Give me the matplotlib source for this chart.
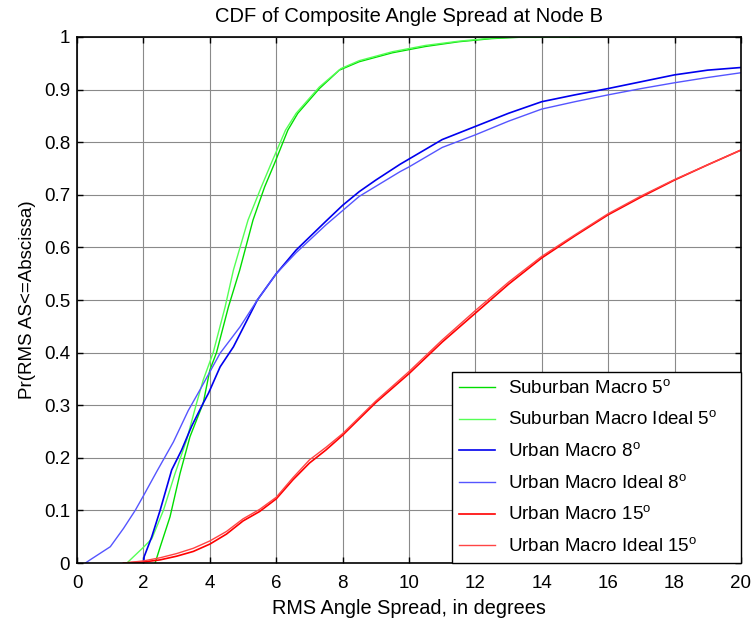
import matplotlib
matplotlib.use('Agg')
import matplotlib.pyplot as plt
import numpy as np

plt.rcParams['font.family'] = ['Liberation Sans', 'DejaVu Sans']
plt.rcParams['mathtext.fontset'] = 'custom'
plt.rcParams['mathtext.rm'] = 'Liberation Sans'

# Suburban Macro 5 deg
sub_x = [2.35, 2.5, 2.8, 3.1, 3.4, 3.8, 4.0, 4.2, 4.56, 4.9, 5.3, 5.65, 5.95, 6.35, 6.65,
         7.3, 7.9, 8.5, 9.5, 10.5, 11.5, 12.5, 13.5, 15.2]
sub_y = [0.0, 0.03, 0.088, 0.17, 0.24, 0.304, 0.367, 0.4, 0.487, 0.557, 0.652, 0.715, 0.76,
         0.823, 0.855, 0.902, 0.937, 0.953, 0.97, 0.982, 0.991, 0.997, 1.0, 1.0]

# Suburban Macro Ideal 5 deg
subi_x = [1.5, 2.0, 2.25, 2.6, 2.95, 3.3, 3.6, 3.8, 4.1, 4.46, 4.71, 5.15, 5.55, 5.85, 6.28,
          6.6, 7.3, 7.95, 8.5, 9.5, 10.5, 11.5, 12.5, 13.2, 14.8]
subi_y = [0.0, 0.03, 0.046, 0.1, 0.17, 0.234, 0.304, 0.348, 0.4, 0.487, 0.557, 0.652, 0.715,
          0.76, 0.823, 0.855, 0.905, 0.94, 0.955, 0.972, 0.984, 0.992, 0.998, 1.0, 1.0]

# Urban Macro 8 deg
urb8_x = [2.0, 2.02, 2.25, 2.5, 2.85, 3.15, 3.45, 3.8, 3.96, 4.31, 4.71, 5.43, 6.0, 6.6, 7.5,
          8.0, 8.5, 9.0, 9.73, 10.0, 11.0, 12.0, 13.0, 14.0, 15.0, 16.0, 17.0, 18.0, 19.0, 20.0]
urb8_y = [0.0, 0.012, 0.05, 0.1, 0.177, 0.215, 0.26, 0.304, 0.323, 0.373, 0.411, 0.5, 0.55,
          0.595, 0.65, 0.68, 0.706, 0.728, 0.758, 0.768, 0.805, 0.83, 0.855, 0.877, 0.89,
          0.902, 0.915, 0.928, 0.937, 0.942]

# Urban Macro Ideal 8 deg
urb8i_x = [0.25, 0.39, 1.0, 1.4, 1.75, 2.0, 2.4, 2.9, 3.35, 3.7, 4.31, 4.91, 5.43, 6.0, 6.6,
           7.5, 8.5, 9.73, 10.0, 11.0, 12.0, 13.0, 14.0, 15.0, 16.0, 17.0, 18.0, 19.0, 20.0]
urb8i_y = [0.0, 0.006, 0.031, 0.066, 0.1, 0.128, 0.174, 0.23, 0.29, 0.329, 0.399, 0.449,
           0.5, 0.55, 0.59, 0.643, 0.697, 0.744, 0.753, 0.79, 0.814, 0.84, 0.863, 0.877, 0.89,
           0.902, 0.913, 0.923, 0.932]

# Urban Macro 15 deg
urb15_x = [1.4, 2.0, 2.5, 3.0, 3.5, 4.0, 4.5, 5.0, 5.5, 6.0, 6.5, 7.0, 7.5, 8.0, 9.0, 10.0,
           11.0, 12.0, 13.0, 14.0, 15.0, 16.0, 17.0, 18.0, 19.0, 20.0]
urb15_y = [0.0, 0.002, 0.006, 0.013, 0.022, 0.036, 0.055, 0.08, 0.098, 0.122, 0.158, 0.19,
           0.215, 0.243, 0.305, 0.36, 0.42, 0.475, 0.53, 0.58, 0.622, 0.662, 0.696, 0.728,
           0.757, 0.785]

# Urban Macro Ideal 15 deg
urb15i_x = [1.4, 2.0, 2.5, 3.0, 3.5, 4.0, 4.5, 5.0, 5.5, 6.0, 6.5, 7.0, 7.5, 8.0, 9.0, 10.0,
            11.0, 12.0, 13.0, 14.0, 15.0, 16.0, 17.0, 18.0, 19.0, 20.0]
urb15i_y = [0.0, 0.004, 0.01, 0.018, 0.028, 0.042, 0.06, 0.084, 0.102, 0.125, 0.162, 0.196,
            0.22, 0.246, 0.308, 0.364, 0.424, 0.48, 0.534, 0.583, 0.624, 0.664, 0.698, 0.729,
            0.757, 0.785]

fig = plt.figure(figsize=(7.56, 6.26), dpi=100)
ax = fig.add_axes([0.102, 0.1006, 0.878, 0.8403])

ax.plot(sub_x, sub_y, color='#00dd00', lw=1.0, label='Suburban Macro 5$^\\mathrm{o}$    ')
ax.plot(subi_x, subi_y, color='#55ff55', lw=1.0, label='Suburban Macro Ideal 5$^\\mathrm{o}$    ')
ax.plot(urb8_x, urb8_y, color='#0000ee', lw=1.2, label='Urban Macro 8$^\\mathrm{o}$')
ax.plot(urb8i_x, urb8i_y, color='#5555ff', lw=1.0, label='Urban Macro Ideal 8$^\\mathrm{o}$')
ax.plot(urb15_x, urb15_y, color='#ff0000', lw=1.2, label='Urban Macro 15$^\\mathrm{o}$')
ax.plot(urb15i_x, urb15i_y, color='#ff4444', lw=1.0, label='Urban Macro Ideal 15$^\\mathrm{o}$')

ax.set_xlim(0, 20)
ax.set_ylim(0, 1)
ax.set_xticks(np.arange(0, 21, 2))
ax.set_yticks(np.arange(0, 1.01, 0.1))
ax.set_yticklabels(['0', '0.1', '0.2', '0.3', '0.4', '0.5', '0.6', '0.7', '0.8', '0.9', '1'])
ax.tick_params(direction='in', top=True, right=True, length=4, width=1, labelsize=13.5)
ax.tick_params(axis='x', pad=8.5)
ax.tick_params(axis='y', pad=5)
ax.grid(True, color='#8a8a8a', lw=0.8, ls='-')
for s in ax.spines.values():
    s.set_linewidth(1.2)

ax.set_title('CDF of Composite Angle Spread at Node B', fontsize=14.5, pad=11)
ax.set_xlabel('RMS Angle Spread, in degrees', fontsize=14.3, labelpad=5)
ax.set_ylabel('Pr(RMS AS<=Abscissa)', fontsize=13.5, labelpad=6)

leg = ax.legend(loc='lower right', fontsize=13.5, fancybox=False, framealpha=1,
                edgecolor='black', borderaxespad=0, handlelength=1.9, handletextpad=0.7,
                labelspacing=0.69, borderpad=0.38)
leg.get_frame().set_linewidth(1.0)

fig.savefig('out.png', dpi=100)
